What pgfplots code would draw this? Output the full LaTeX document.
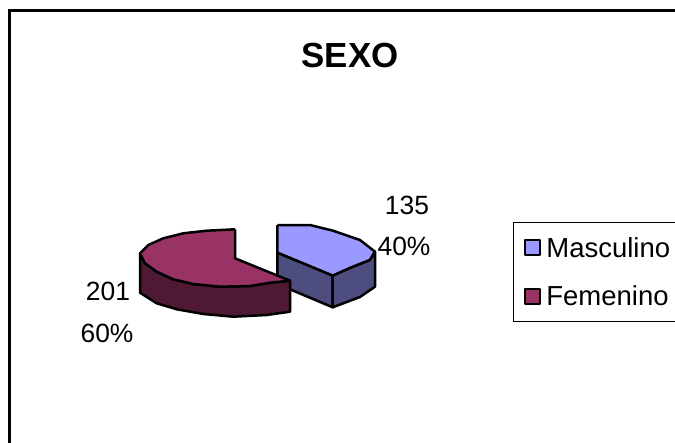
\documentclass[border=0pt]{standalone}
\usepackage{fontspec}
\setmainfont{Liberation Sans}
\usepackage{pgfplots}
\pgfplotsset{compat=1.18}
\definecolor{mascTop}{HTML}{9999FF}
\definecolor{mascSide}{HTML}{4D4D80}
\definecolor{femTop}{HTML}{993366}
\definecolor{femSide}{HTML}{4D1933}
\begin{document}
\begin{tikzpicture}
\useasboundingbox (0,0) rectangle (675bp,443bp);
\begin{axis}[
  at={(0,0)},anchor=south west,
  scale only axis, width=675bp, height=443bp,
  xmin=0, xmax=675, ymin=0, ymax=443, y dir=reverse,
  hide axis,
  legend image code/.code={\draw[#1,draw=black,line width=1.8bp] (0bp,-7.5bp) rectangle (15bp,7.5bp);\path[draw=none,fill=none] (19.5bp,0bp) -- (19.5bp,0.1bp);},
  legend style={at={(axis cs:513,222)},anchor=north west,draw=black,line width=1bp,
    font=\fontsize{27.6}{30}\selectfont,fill=white,
    inner xsep=10.5bp,inner ysep=12.6bp,row sep=23bp},
  legend cell align=left,
]
% blue slice
\addplot[fill=mascTop,draw=black,line width=2.5bp,line join=round] coordinates {
 (277.3,225) (310,225) (333,230.7) (360,240) (375,251.7) (370,260) (350,268) (332.7,275.7) (277.3,252.7) (277.3,225)};
\addlegendentry{Masculino}
\addplot[forget plot,fill=mascSide,draw=black,line width=2.5bp,line join=round] coordinates {
 (277.3,252.7) (332.7,275.7) (332.7,307.3) (277.3,284) (277.3,252.7)};
\addplot[forget plot,fill=mascSide,draw=black,line width=2.5bp,line join=round] coordinates {
 (332.7,275.7) (350,268) (370,260) (375,251.7) (375,286.7) (360,297) (332.7,307.3) (332.7,275.7)};
% red slice
\addplot[forget plot,fill=femSide,draw=black,line width=2.5bp,line join=round] coordinates {
 (140,253.3) (145,263.3) (156.7,271.7) (173.3,279.3) (193.3,284) (220,286.7) (250,286) (270,282.7) (290,280.7)
 (290,311.7) (266.7,315) (233.3,316.7) (203.3,314) (176.7,309.3) (156.7,303.3) (140,292.7) (140,253.3)};
\addplot[fill=femTop,draw=black,line width=2.5bp,line join=round] coordinates {
 (235,229.3) (206.7,230.7) (183.3,233.3) (163.3,238.3) (148.3,245) (140,253.3) (145,263.3) (156.7,271.7) (173.3,279.3)
 (193.3,284) (220,286.7) (250,286) (270,282.7) (290,280.7) (235,258.3) (235,229.3)};
\addlegendentry{Femenino}
% chart area frame (left and top edges)
\addplot[forget plot,draw=black,line width=3bp] coordinates {(9.5,443) (9.5,10.3) (675,10.3)};
\node[font=\fontsize{35}{40}\selectfont\bfseries] at (axis cs:350,55) {SEXO};
\node[font=\fontsize{26.5}{30}\selectfont] at (axis cs:407,205) {135};
\node[font=\fontsize{26.5}{30}\selectfont] at (axis cs:404,246) {40\%};
\node[font=\fontsize{26.5}{30}\selectfont] at (axis cs:108,291) {201};
\node[font=\fontsize{26.5}{30}\selectfont] at (axis cs:107,333) {60\%};
\end{axis}
\end{tikzpicture}
\end{document}
